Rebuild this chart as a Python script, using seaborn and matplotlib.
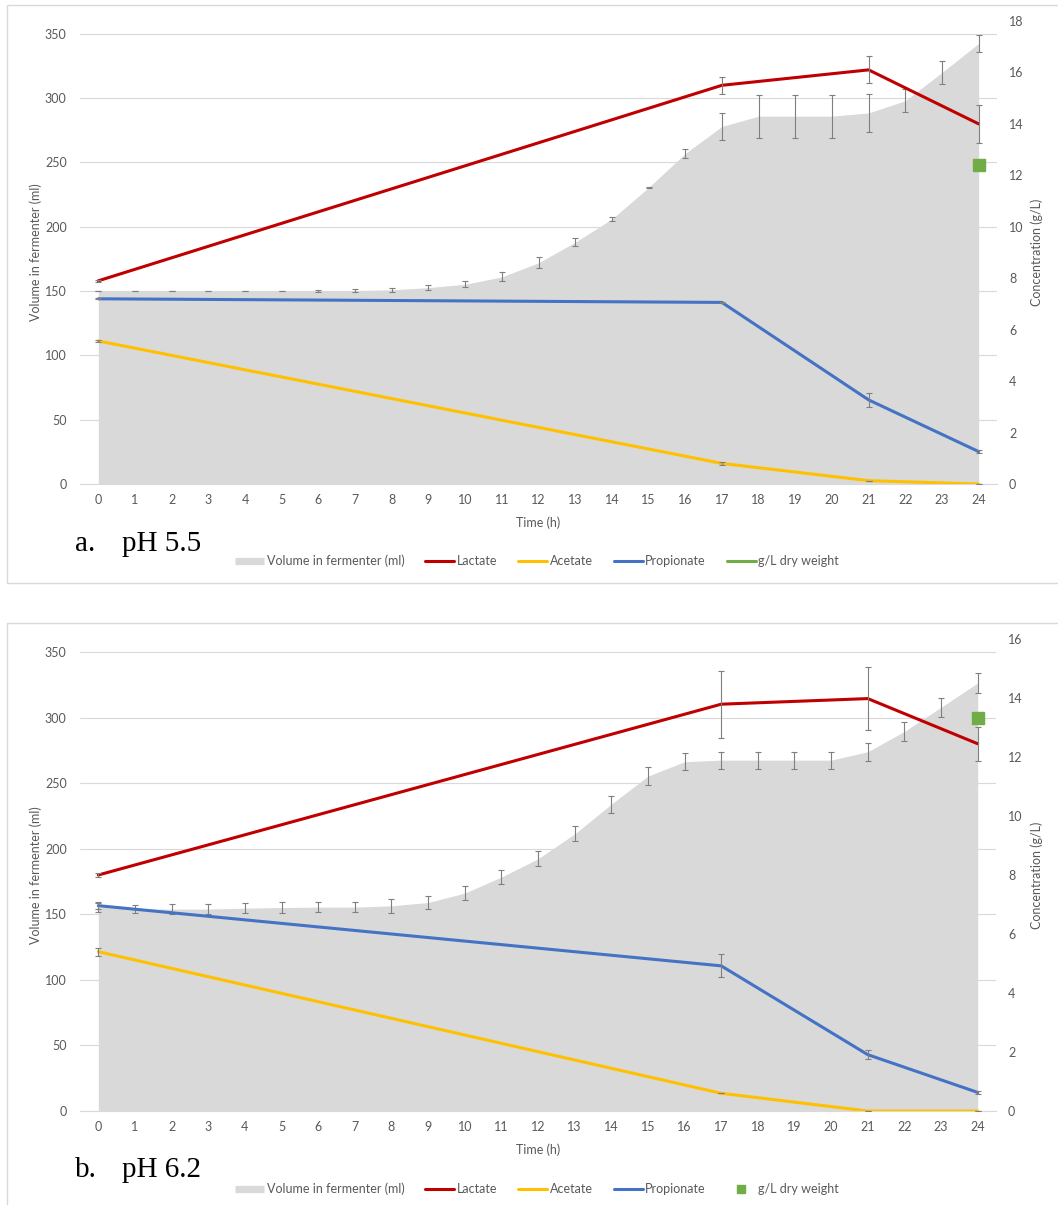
import matplotlib
matplotlib.use("Agg")
import matplotlib.pyplot as plt
from matplotlib.lines import Line2D
from matplotlib.patches import Rectangle
import seaborn as sns
import pandas as pd

# ---------------- data ----------------
hours = list(range(25))
sample_hours = [0, 17, 21, 24]

# pH 5.5
volume_a = [150, 150, 150, 150, 150, 150, 150, 150.4, 151, 152.7, 155.3, 161, 172,
            188, 206, 230.5, 257, 278, 286, 286, 286, 288.5, 298, 320, 342.6]
volume_a_err = [0.2, 0.2, 0.2, 0.2, 0.2, 0.2, 0.5, 1, 1.4, 1.7, 2.2, 3.5, 4.4,
                2.9, 1.6, 0.4, 3.4, 10.8, 16.6, 16.6, 16.6, 14.5, 8.9, 9.2, 6.9]
lactate_a = [7.9, 15.5, 16.1, 14.0]
lactate_a_err = [0.03, 0.32, 0.52, 0.73]
acetate_a = [5.56, 0.80, 0.13, 0.0]
acetate_a_err = [0.03, 0.065, 0.0, 0.0]
propionate_a = [7.2, 7.06, 3.27, 1.26]
propionate_a_err = [0.02, 0.03, 0.28, 0.05]
dryweight_a = 12.42

# pH 6.2
volume_b = [155.5, 154.2, 154, 154, 154.7, 155.2, 155.5, 155.5, 156.5, 159, 166.2, 178.4, 192.4,
            211.3, 234, 255.4, 266.4, 267.6, 267.6, 267.6, 267.6, 274, 289.5, 307.9, 326.5]
volume_b_err = [4, 3.3, 3.8, 4, 4, 4, 4, 4, 5.2, 5.1, 5.4, 5.4, 5.6,
                5.7, 6.5, 6.6, 6.5, 6.5, 6.5, 6.5, 6.5, 6.8, 7.1, 7.4, 7.9]
lactate_b = [8.0, 13.79, 13.98, 12.45]
lactate_b_err = [0.08, 1.14, 1.07, 0.58]
acetate_b = [5.40, 0.60, 0.0, 0.0]
acetate_b_err = [0.13, 0.0, 0.0, 0.0]
propionate_b = [6.96, 4.92, 1.91, 0.63]
propionate_b_err = [0.1, 0.39, 0.16, 0.05]
dryweight_b = 13.32

volume_ticks = [0, 50, 100, 150, 200, 250, 300, 350]

# ---------------- style ----------------
sns.set_theme(style="white")
plt.rcParams["font.family"] = ["Lato", "DejaVu Sans"]

C_AREA = "#D9D9D9"
C_LACT = "#C00000"
C_ACET = "#FFC000"
C_PROP = "#4472C4"
C_DRY = "#70AD47"
C_ERR = "#7F7F7F"
C_GRID = "#D9D9D9"
C_TEXT = "#595959"
FS = 9

W, H = 1058, 1205
fig = plt.figure(figsize=(W / 100, H / 100), dpi=100)


def fx(px):
    return px / W


def fy(py):
    return 1 - py / H


def panel(top, bottom, right, conc_max, conc_step, vol, vol_err, lact, lact_err,
          acet, acet_err, prop, prop_err, dry):
    ax = fig.add_axes([fx(80), fy(bottom), fx(right) - fx(80), (bottom - top) / H])
    ax.set_facecolor("none")
    ax.fill_between(hours, vol, 0, color=C_AREA, lw=0, zorder=1)
    ax.errorbar(hours, vol, yerr=vol_err, fmt="none", ecolor=C_ERR, elinewidth=0.8,
                capsize=2.5, capthick=0.8, zorder=3)
    ax.set_xlim(-0.5, 24.5)
    ax.set_ylim(0, 360)
    ax.set_yticks(volume_ticks)
    ax.yaxis.grid(True, color=C_GRID, lw=0.8, zorder=0)
    ax.set_axisbelow(True)
    ax.set_xticks(hours)
    ax.set_xticks([h - 0.5 for h in hours] + [24.5], minor=True)
    ax.tick_params(axis="x", which="major", length=0, pad=7, labelsize=FS, labelcolor=C_TEXT)
    ax.tick_params(axis="x", which="minor", length=4, width=0.8, color=C_GRID, direction="out")
    ax.tick_params(axis="y", length=0, pad=9.6, labelsize=FS, labelcolor=C_TEXT)
    for s in ["top", "left", "right"]:
        ax.spines[s].set_visible(False)
    ax.spines["bottom"].set_color(C_GRID)
    ax.spines["bottom"].set_linewidth(0.8)
    ax.set_xlabel("")
    ax.set_ylabel("")

    ax2 = ax.twinx()
    frame = pd.DataFrame({"Time (h)": sample_hours, "Lactate": lact,
                          "Acetate": acet, "Propionate": prop})
    for name, col in [("Acetate", C_ACET), ("Propionate", C_PROP), ("Lactate", C_LACT)]:
        sns.lineplot(data=frame, x="Time (h)", y=name, ax=ax2, color=col, lw=2.2,
                     legend=False, zorder=4)
    for vals, errs in [(lact, lact_err), (acet, acet_err), (prop, prop_err)]:
        ax2.errorbar(sample_hours, vals, yerr=errs, fmt="none", ecolor=C_ERR,
                     elinewidth=0.8, capsize=2.5, capthick=0.8, zorder=5)
    ax2.plot([24], [dry], marker="s", ms=8.6, color=C_DRY, ls="none", zorder=6)
    ax2.set_ylim(0, conc_max)
    ax2.set_yticks(list(range(0, conc_max + 1, conc_step)))
    ax2.tick_params(axis="y", length=0, pad=8.6, labelsize=FS, labelcolor=C_TEXT)
    for s in ax2.spines.values():
        s.set_visible(False)
    ax2.set_xlabel("")
    ax2.set_ylabel("")
    ax2.set_xlim(-0.5, 24.5)
    return ax, ax2


def legend(y, dry_marker):
    handles = [
        Line2D([], [], color=C_AREA, lw=5.2, solid_capstyle="butt"),
        Line2D([], [], color=C_LACT, lw=2.2),
        Line2D([], [], color=C_ACET, lw=2.2),
        Line2D([], [], color=C_PROP, lw=2.2),
    ]
    if dry_marker:
        handles.append(Line2D([], [], color=C_DRY, marker="s", ms=5.5, ls="none"))
    else:
        handles.append(Line2D([], [], color=C_DRY, lw=2.2))
    labels = ["Volume in fermenter (ml)", "Lactate", "Acetate", "Propionate", "g/L dry weight"]
    fig.legend(handles, labels, loc="center", bbox_to_anchor=(fx(537), fy(y)), ncol=5,
               frameon=False, fontsize=FS, handlelength=2.35, handletextpad=0.2,
               columnspacing=1.65, labelcolor=C_TEXT)


# panel frames
fig.patches.append(Rectangle((fx(7), fy(583)), fx(1060) - fx(7), (583 - 5) / H,
                             transform=fig.transFigure, fill=False, ec="#D9D9D9", lw=1.0))
fig.patches.append(Rectangle((fx(7), fy(1210)), fx(1060) - fx(7), (1210 - 623) / H,
                             transform=fig.transFigure, fill=False, ec="#D9D9D9", lw=1.0))

panel(21, 484, 997, 18, 2, volume_a, volume_a_err, lactate_a, lactate_a_err,
      acetate_a, acetate_a_err, propionate_a, propionate_a_err, dryweight_a)
panel(639, 1111, 996, 16, 2, volume_b, volume_b_err, lactate_b, lactate_b_err,
      acetate_b, acetate_b_err, propionate_b, propionate_b_err, dryweight_b)

for yc, yt, ylab, ylet, yleg, mk in [(252, 522.7, 551, "a.", 561, False),
                                     (875, 1150, 1177, "b.", 1189, True)]:
    fig.text(fx(36), fy(yc), "Volume in fermenter (ml)", rotation=90, ha="center",
             va="center", fontsize=FS, color=C_TEXT)
    fig.text(fx(1037), fy(yc), "Concentration (g/L)", rotation=90, ha="center",
             va="center", fontsize=FS, color=C_TEXT)
    fig.text(fx(538), fy(yt), "Time (h)", ha="center", va="center", fontsize=FS,
             color=C_TEXT)
    fig.text(fx(75), fy(ylab), ylet, ha="left", va="baseline", fontsize=21,
             family="Liberation Serif", color="black")
    fig.text(fx(121.7), fy(ylab), "pH 5.5" if ylet == "a." else "pH 6.2", ha="left",
             va="baseline", fontsize=21, family="Liberation Serif", color="black")
    legend(yleg, mk)

fig.savefig("out.png", dpi=100, facecolor="white")
